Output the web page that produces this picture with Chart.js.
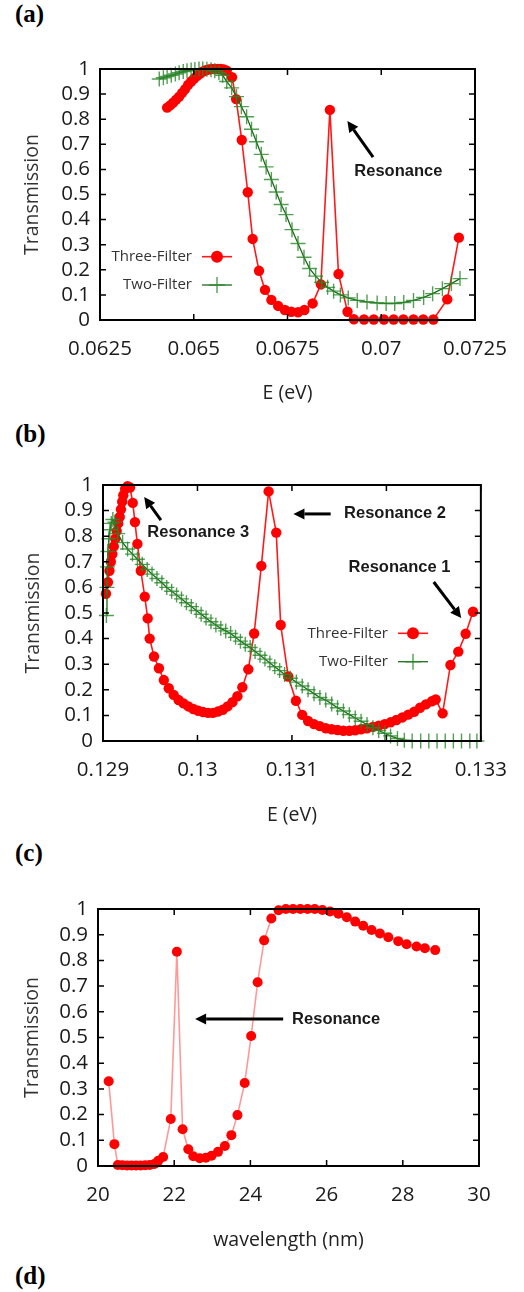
<!DOCTYPE html>
<html>
<head>
<meta charset="utf-8">
<script src="https://cdn.jsdelivr.net/npm/chart.js@4.4.0/dist/chart.umd.min.js"></script>
<style>
  body { margin: 0; background: #fff; width: 524px; height: 1292px; position: relative; overflow: hidden; }
  .panel { position: absolute; left: 15px; font: bold 25px "Liberation Serif", serif; color: #000; line-height: 28px; }
  canvas { position: absolute; left: 0; }
</style>
</head>
<body>
<div class="panel" style="top:0px">(a)</div>
<div class="panel" style="top:420px">(b)</div>
<div class="panel" style="top:839px">(c)</div>
<div class="panel" style="top:1262px">(d)</div>
<canvas id="chartA" width="524" height="380" style="top:40px"></canvas>
<canvas id="chartB" width="524" height="380" style="top:460px"></canvas>
<canvas id="chartC" width="524" height="380" style="top:880px"></canvas>
<script>
// ---- data ----
// (a) transmission vs energy
const aThreeE = [0.06429, 0.06437, 0.06445, 0.06453, 0.06461, 0.06469, 0.06477, 0.06485, 0.06493, 0.06501,
  0.06509, 0.06517, 0.06524, 0.06532, 0.06540, 0.06548, 0.06556, 0.06564, 0.06572, 0.06580, 0.06588,
  0.06602, 0.06613, 0.06628, 0.06644, 0.06657, 0.06674, 0.06690, 0.06707, 0.06725, 0.06743, 0.06760,
  0.06778, 0.06795, 0.06817, 0.06839, 0.06863, 0.06886, 0.06910, 0.06927, 0.06954, 0.06980, 0.07007,
  0.07033, 0.07059, 0.07086, 0.07112, 0.07139, 0.07176, 0.07207];
const aThreeT = [0.846, 0.855, 0.866, 0.878, 0.89, 0.905, 0.92, 0.937, 0.95, 0.962,
  0.973, 0.982, 0.99, 0.995, 0.998, 1.0, 1.0, 1.0, 1.0, 0.998, 0.993,
  0.967, 0.88, 0.717, 0.509, 0.323, 0.196, 0.12, 0.08, 0.056, 0.04, 0.033,
  0.031, 0.04, 0.066, 0.142, 0.837, 0.183, 0.033, 0.003, 0.002, 0.002, 0.002,
  0.002, 0.002, 0.002, 0.002, 0.002, 0.082, 0.328];
const aTwoE = [0.06408, 0.06419, 0.06429, 0.06440, 0.06451, 0.06461, 0.06472, 0.06482, 0.06493, 0.06503,
  0.06514, 0.06524, 0.06535, 0.06546, 0.06556, 0.06567, 0.06577,
  0.06588, 0.06601, 0.06614, 0.06627, 0.06641, 0.06654, 0.06667, 0.06680, 0.06693, 0.06707, 0.06720, 0.06733, 0.06746,
  0.06762, 0.06778, 0.06794, 0.06809, 0.06825, 0.06841, 0.06857, 0.06873,
  0.06891, 0.06912, 0.06936, 0.06962, 0.06989, 0.07013, 0.07036, 0.07060, 0.07086, 0.07113, 0.07137, 0.07163, 0.07187, 0.07210];
const aTwoT = [0.96, 0.965, 0.97, 0.975, 0.98, 0.985, 0.99, 0.993, 0.996, 0.998,
  1.0, 1.0, 0.999, 0.997, 0.993, 0.985, 0.975,
  0.95, 0.925, 0.89, 0.85, 0.81, 0.76, 0.71, 0.66, 0.61, 0.56, 0.51, 0.46, 0.42,
  0.36, 0.305, 0.25, 0.205, 0.175, 0.15, 0.13, 0.115,
  0.10, 0.088, 0.078, 0.072, 0.068, 0.066, 0.066, 0.07, 0.078, 0.09, 0.105, 0.125, 0.145, 0.165];

// (b) transmission vs energy, second band
const bThreeE = [0.129031, 0.129052, 0.129068, 0.129083, 0.129099, 0.129114, 0.129130, 0.129145, 0.129161, 0.129177,
  0.129190, 0.129203, 0.129215, 0.129234, 0.129260, 0.129286, 0.129315, 0.129338, 0.129364, 0.129400,
  0.129442, 0.129473, 0.129494, 0.129540, 0.129592, 0.129644, 0.129696, 0.129748, 0.129800, 0.129852,
  0.129904, 0.129956, 0.130008, 0.130060, 0.130112, 0.130164, 0.130216, 0.130268, 0.130319, 0.130371,
  0.130423, 0.130475, 0.130538, 0.130600, 0.130676, 0.130753, 0.130834, 0.130881, 0.130961, 0.131042,
  0.131109, 0.131171, 0.131234, 0.131296, 0.131358, 0.131421, 0.131483, 0.131545, 0.131608, 0.131670,
  0.131732, 0.131795, 0.131857, 0.131919, 0.131982, 0.132044, 0.132106, 0.132169, 0.132231, 0.132294,
  0.132356, 0.132418, 0.132481, 0.132522, 0.132595, 0.132678, 0.132761, 0.132839, 0.132917];
const bThreeT = [0.575, 0.62, 0.665, 0.70, 0.73, 0.76, 0.79, 0.82, 0.85, 0.875,
  0.905, 0.935, 0.96, 0.985, 0.995, 0.99, 0.93, 0.855, 0.77, 0.665,
  0.564, 0.479, 0.40, 0.33, 0.284, 0.238, 0.206, 0.18, 0.16, 0.147,
  0.135, 0.125, 0.118, 0.113, 0.11, 0.11, 0.115, 0.122, 0.135, 0.152,
  0.175, 0.21, 0.28, 0.42, 0.684, 0.975, 0.814, 0.453, 0.252, 0.157,
  0.102, 0.078, 0.066, 0.058, 0.05, 0.046, 0.043, 0.04, 0.04, 0.042,
  0.046, 0.05, 0.055, 0.06, 0.066, 0.073, 0.082, 0.092, 0.103, 0.114,
  0.13, 0.143, 0.155, 0.162, 0.108, 0.297, 0.349, 0.419, 0.505];
const bTwoE = [0.129036, 0.129042, 0.129047, 0.129052, 0.129062, 0.129073, 0.129088, 0.129104, 0.129125, 0.129156,
  0.129208, 0.129260, 0.129312, 0.129364, 0.129416, 0.129468, 0.129519, 0.129571, 0.129623, 0.129675,
  0.129727, 0.129779, 0.129831, 0.129883, 0.129935, 0.129987, 0.130039, 0.130091, 0.130143, 0.130195,
  0.130247, 0.130299, 0.130351, 0.130403, 0.130455, 0.130506, 0.130558, 0.130610, 0.130662, 0.130714,
  0.130766, 0.130818, 0.130870, 0.130922, 0.130984, 0.131047, 0.131109, 0.131171, 0.131234, 0.131296,
  0.131358, 0.131421, 0.131483, 0.131545, 0.131608, 0.131670, 0.131732, 0.131795, 0.131857, 0.131919,
  0.131982, 0.132044, 0.132117, 0.132190, 0.132273, 0.132363, 0.132449, 0.132536, 0.132623, 0.132709,
  0.132795, 0.132883, 0.132958];
const bTwoT = [0.49, 0.60, 0.68, 0.74, 0.79, 0.825, 0.85, 0.865, 0.855, 0.81,
  0.775, 0.75, 0.73, 0.71, 0.69, 0.67, 0.652, 0.635, 0.618, 0.60,
  0.585, 0.57, 0.555, 0.54, 0.525, 0.51, 0.495, 0.48, 0.466, 0.453,
  0.44, 0.43, 0.42, 0.405, 0.39, 0.378, 0.365, 0.35, 0.335, 0.32,
  0.305, 0.29, 0.275, 0.26, 0.245, 0.23, 0.215, 0.2, 0.185, 0.17,
  0.16, 0.145, 0.13, 0.117, 0.103, 0.09, 0.077, 0.064, 0.052, 0.041,
  0.03, 0.02, 0.01, 0.003, 0, 0, 0, 0, 0, 0,
  0, 0, 0];

// (c) three-filter transmission vs wavelength
const cWl = [20.28, 20.43, 20.52, 20.64, 20.76, 20.88, 21.0, 21.12, 21.24, 21.36, 21.48, 21.58, 21.71,
  21.91, 22.07, 22.22, 22.37, 22.50, 22.67, 22.83, 22.98, 23.15, 23.33, 23.50, 23.66, 23.85,
  24.02, 24.19, 24.36, 24.55, 24.74, 24.93, 25.12, 25.31, 25.50, 25.69, 25.89, 26.09,
  26.31, 26.53, 26.75, 26.96, 27.18, 27.40, 27.62, 27.88, 28.10, 28.36, 28.58, 28.85];
const cT = [0.33, 0.085, 0.004, 0.003, 0.002, 0.002, 0.002, 0.002, 0.003, 0.004, 0.008, 0.02, 0.035,
  0.183, 0.834, 0.143, 0.065, 0.038, 0.030, 0.032, 0.04, 0.055, 0.078, 0.12, 0.198, 0.323,
  0.506, 0.715, 0.878, 0.963, 0.995, 1.0, 1.0, 1.0, 1.0, 1.0, 0.996, 0.99,
  0.982, 0.968, 0.951, 0.935, 0.918, 0.905, 0.89, 0.875, 0.863, 0.854, 0.847, 0.84];

// tick labels
const yTicks = [0, 0.1, 0.2, 0.3, 0.4, 0.5, 0.6, 0.7, 0.8, 0.9, 1];
const yTickLabels = ['0', '0.1', '0.2', '0.3', '0.4', '0.5', '0.6', '0.7', '0.8', '0.9', '1'];
const aXTicks = [0.0625, 0.065, 0.0675, 0.07, 0.0725];
const aXTickLabels = ['0.0625', '0.065', '0.0675', '0.07', '0.0725'];
const bXTicks = [0.129, 0.13, 0.131, 0.132, 0.133];
const bXTickLabels = ['0.129', '0.13', '0.131', '0.132', '0.133'];
const cXTicks = [20, 22, 24, 26, 28, 30];
const cXTickLabels = ['20', '22', '24', '26', '28', '30'];

const seriesNames = ['Three-Filter', 'Two-Filter'];

function pairs(xs, ys) {
  return xs.map((v, i) => ({x: v, y: ys[i]}));
}

const TICK_FONT = {family: '"Open Sans", sans-serif', size: 20.5};
const TITLE_FONT = {family: '"Open Sans", sans-serif', size: 19.5};

// inward ticks on all four sides + frame
const boxPlugin = {
  id: 'box',
  afterDatasetsDraw(chart) {
    const {ctx, chartArea: a} = chart;
    const x = chart.scales.x, y = chart.scales.y;
    ctx.save();
    ctx.strokeStyle = '#000';
    ctx.lineWidth = 1.5;
    ctx.beginPath();
    x.ticks.forEach(t => {
      const px = x.getPixelForValue(t.value);
      ctx.moveTo(px, a.bottom); ctx.lineTo(px, a.bottom - 6);
      ctx.moveTo(px, a.top); ctx.lineTo(px, a.top + 6);
    });
    y.ticks.forEach(t => {
      const py = y.getPixelForValue(t.value);
      ctx.moveTo(a.left, py); ctx.lineTo(a.left + 6, py);
      ctx.moveTo(a.right, py); ctx.lineTo(a.right - 6, py);
    });
    ctx.stroke();
    ctx.lineWidth = 2;
    ctx.strokeRect(a.left, a.top, a.right - a.left, a.bottom - a.top);
    ctx.restore();
  }
};

function drawMarker(ctx, style, cx, cy, r, color, lw) {
  if (style === 'cross') {
    ctx.strokeStyle = color;
    ctx.lineWidth = lw;
    ctx.beginPath();
    ctx.moveTo(cx - r, cy); ctx.lineTo(cx + r, cy);
    ctx.moveTo(cx, cy - r); ctx.lineTo(cx, cy + r);
    ctx.stroke();
  } else {
    ctx.fillStyle = color;
    ctx.beginPath();
    ctx.arc(cx, cy, r, 0, Math.PI * 2);
    ctx.fill();
  }
}

// gnuplot style key: text on the left, sample on the right
const keyPlugin = {
  id: 'key',
  afterDraw(chart, args, opts) {
    if (!opts.show) return;
    const ctx = chart.ctx;
    ctx.save();
    chart.data.datasets.forEach((ds, i) => {
      const yy = opts.top + i * opts.gap;
      ctx.font = '15px "Open Sans", sans-serif';
      ctx.fillStyle = '#333';
      ctx.textAlign = 'right';
      ctx.textBaseline = 'middle';
      ctx.fillText(ds.label, opts.right, yy);
      ctx.strokeStyle = ds.borderColor;
      ctx.lineWidth = ds.borderWidth;
      ctx.beginPath();
      ctx.moveTo(opts.right + 10, yy);
      ctx.lineTo(opts.right + 40, yy);
      ctx.stroke();
      drawMarker(ctx, ds.pointStyle, opts.right + 25, yy, ds.pointStyle === 'cross' ? 8 : 6,
        ds.pointBorderColor, ds.pointBorderWidth);
    });
    ctx.restore();
  }
};

// "Resonance" notes with arrows, placed in data coordinates
const notePlugin = {
  id: 'notes',
  afterDraw(chart, args, opts) {
    const ctx = chart.ctx;
    const x = chart.scales.x, y = chart.scales.y;
    ctx.save();
    ctx.font = 'bold 16.5px "Liberation Sans", Arial, sans-serif';
    ctx.fillStyle = '#1a1a1a';
    ctx.textAlign = 'center';
    ctx.textBaseline = 'middle';
    (opts.texts || []).forEach(t => {
      ctx.fillText(t.text, x.getPixelForValue(t.x), y.getPixelForValue(t.y));
    });
    (opts.arrows || []).forEach(ar => {
      const x1 = x.getPixelForValue(ar.x1), y1 = y.getPixelForValue(ar.y1);
      const x2 = x.getPixelForValue(ar.x2), y2 = y.getPixelForValue(ar.y2);
      const ang = Math.atan2(y2 - y1, x2 - x1);
      const hl = 11, hw = 5.5;
      const bx = x2 - hl * Math.cos(ang), by = y2 - hl * Math.sin(ang);
      ctx.strokeStyle = '#000';
      ctx.fillStyle = '#000';
      ctx.lineWidth = 3;
      ctx.beginPath();
      ctx.moveTo(x1, y1);
      ctx.lineTo(bx, by);
      ctx.stroke();
      ctx.beginPath();
      ctx.moveTo(x2, y2);
      ctx.lineTo(bx + hw * Math.sin(ang), by - hw * Math.cos(ang));
      ctx.lineTo(bx - hw * Math.sin(ang), by + hw * Math.cos(ang));
      ctx.closePath();
      ctx.fill();
    });
    ctx.restore();
  }
};

function redSet(data, lineColor, r) {
  return {
    label: seriesNames[0], data: data, showLine: true, order: 1, clip: false,
    borderColor: lineColor, borderWidth: 1.6,
    pointStyle: 'circle', pointRadius: r, pointBackgroundColor: '#ff0000',
    pointBorderColor: '#ff0000', pointBorderWidth: 0
  };
}

function greenSet(data) {
  return {
    label: seriesNames[1], data: data, showLine: true, order: 0, clip: false,
    borderColor: '#1b6b1b', borderWidth: 1.3,
    pointStyle: 'cross', pointRadius: 7.5, pointBackgroundColor: 'rgba(0,0,0,0)',
    pointBorderColor: 'rgba(40,135,40,0.8)', pointBorderWidth: 1.4
  };
}

function makeChart(id, datasets, o) {
  return new Chart(document.getElementById(id), {
    type: 'scatter',
    data: {datasets: datasets},
    options: {
      responsive: false,
      animation: false,
      events: [],
      layout: {padding: {top: o.padTop, right: o.padRight, left: 0, bottom: 0}},
      plugins: {
        legend: {display: false},
        tooltip: {enabled: false},
        key: o.key,
        notes: o.notes
      },
      scales: {
        x: {
          type: 'linear', min: o.xTicks[0], max: o.xTicks[o.xTicks.length - 1],
          afterBuildTicks: s => { s.ticks = o.xTicks.map(v => ({value: v})); },
          afterFit: s => { s.height = o.xAxisH; },
          grid: {display: false, drawTicks: false},
          border: {display: false},
          ticks: {
            callback: (v, i) => o.xLabels[i], font: TICK_FONT, color: '#1a1a1a',
            padding: 17, maxRotation: 0, autoSkip: false
          },
          title: {display: true, text: o.xTitle, font: TITLE_FONT, color: '#222',
            padding: {top: 0, bottom: o.xTitlePad}}
        },
        y: {
          type: 'linear', min: 0, max: 1,
          afterBuildTicks: s => { s.ticks = yTicks.map(v => ({value: v})); },
          afterFit: s => { s.width = o.yAxisW; },
          grid: {display: false, drawTicks: false},
          border: {display: false},
          ticks: {
            callback: (v, i) => yTickLabels[i], font: TICK_FONT, color: '#1a1a1a',
            padding: 10, autoSkip: false
          },
          title: {display: true, text: 'Transmission', font: TITLE_FONT, color: '#333',
            padding: {top: o.yTitlePad, bottom: 0}}
        }
      }
    },
    plugins: [boxPlugin, keyPlugin, notePlugin]
  });
}

makeChart('chartA', [redSet(pairs(aThreeE, aThreeT), '#ff1a1a', 5.2), greenSet(pairs(aTwoE, aTwoT))], {
  padTop: 29, padRight: 45, xAxisH: 100, yAxisW: 100, xTitlePad: 14.6, yTitlePad: 21,
  xTicks: aXTicks, xLabels: aXTickLabels, xTitle: 'E (eV)',
  key: {show: true, right: 192, top: 216.7, gap: 28.3},
  notes: {
    texts: [{text: 'Resonance', x: 0.070455, y: 0.59}],
    arrows: [{x1: 0.069782, y1: 0.649, x2: 0.069096, y2: 0.793}]
  }
});

makeChart('chartB', [redSet(pairs(bThreeE, bThreeT), '#ff1a1a', 5.2), greenSet(pairs(bTwoE, bTwoT))], {
  padTop: 25, padRight: 36, xAxisH: 99, yAxisW: 103, xTitlePad: 12.6, yTitlePad: 22,
  xTicks: bXTicks, xLabels: bXTickLabels, xTitle: 'E (eV)',
  key: {show: true, right: 388, top: 173.3, gap: 28.4},
  notes: {
    texts: [
      {text: 'Resonance 3', x: 0.130008, y: 0.816},
      {text: 'Resonance 2', x: 0.132091, y: 0.887},
      {text: 'Resonance 1', x: 0.132138, y: 0.676}
    ],
    arrows: [
      {x1: 0.129613, y1: 0.863, x2: 0.129436, y2: 0.953},
      {x1: 0.131410, y1: 0.887, x2: 0.131016, y2: 0.887},
      {x1: 0.132501, y1: 0.621, x2: 0.132792, y2: 0.480}
    ]
  }
});

makeChart('chartC', [redSet(pairs(cWl, cT), 'rgba(255,70,70,0.55)', 5.0)], {
  padTop: 29, padRight: 45, xAxisH: 94, yAxisW: 98, xTitlePad: 7.6, yTitlePad: 20.5,
  xTicks: cXTicks, xLabels: cXTickLabels, xTitle: 'wavelength (nm)',
  key: {show: false},
  notes: {
    texts: [{text: 'Resonance', x: 26.25, y: 0.572}],
    arrows: [{x1: 24.86, y1: 0.572, x2: 22.55, y2: 0.572}]
  }
});
</script>
</body>
</html>
